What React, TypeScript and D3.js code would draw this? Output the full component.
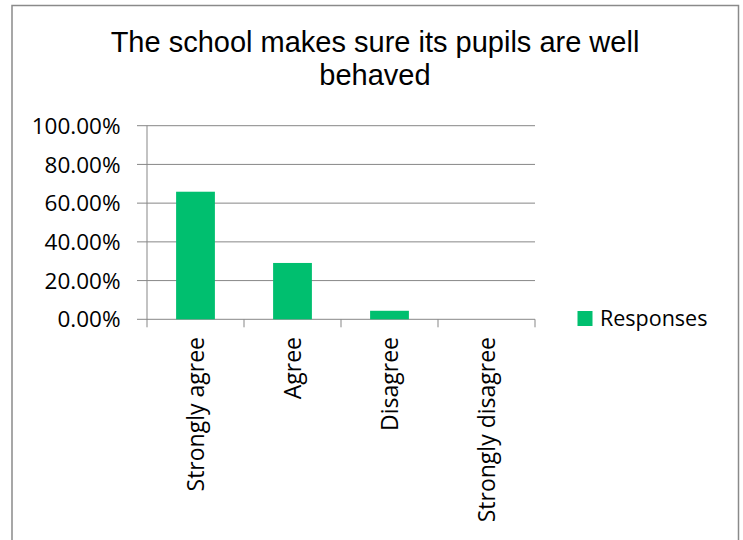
import React from "react";
import * as d3 from "d3";

const categories: string[] = ["Strongly agree", "Agree", "Disagree", "Strongly disagree"];
const responses: number[] = [0.659, 0.291, 0.044, 0];
const yTicks: number[] = [0, 0.2, 0.4, 0.6, 0.8, 1.0];
const titleLines: string[] = ["The school makes sure its pupils are well", "behaved"];
const seriesName = "Responses";

const W = 743;
const H = 540;
const plot = { left: 147, right: 535, top: 125.7, bottom: 319.3 };
const barColor = "#00BF6F";
const gridColor = "#878787";
const font = "'Open Sans', 'Noto Sans', sans-serif";

export default function App() {
  const x = d3.scaleBand<string>().domain(categories).range([plot.left, plot.right]).padding(0);
  const y = d3.scaleLinear().domain([0, 1]).range([plot.bottom, plot.top]);
  const bw = x.bandwidth() * 0.4;
  const fmt = (v: number) => (v * 100).toFixed(2) + "%";
  const boundaries = [...categories.map((c) => x(c) as number), plot.right];

  return (
    <svg
      width={W}
      height={H}
      style={{ position: "absolute", left: 0, top: 0, background: "#fff" }}
    >
      <rect x={0} y={0} width={W} height={H} fill="#fff" />
      <rect x={12} y={5.5} width={726.5} height={H + 10} fill="none" stroke="#8a8a8a" strokeWidth={1.5} />

      {titleLines.map((t, i) => (
        <text
          key={i}
          x={375}
          y={52 + i * 33}
          textAnchor="middle"
          fontFamily="'Liberation Sans', Arial, sans-serif"
          fontSize={29}
          fill="#000"
        >
          {t}
        </text>
      ))}

      {yTicks.map((t) => (
        <g key={t}>
          <line x1={137} x2={plot.right} y1={y(t)} y2={y(t)} stroke={gridColor} strokeWidth={1} />
          <text
            x={120.5}
            y={y(t)}
            dy="0.36em"
            textAnchor="end"
            fontFamily={font}
            fontSize={22.5}
            fill="#000"
          >
            {fmt(t)}
          </text>
        </g>
      ))}

      <line x1={plot.left} x2={plot.left} y1={plot.top} y2={plot.bottom} stroke={gridColor} strokeWidth={1} />
      {boundaries.map((b, i) => (
        <line key={i} x1={b} x2={b} y1={plot.bottom} y2={plot.bottom + 8} stroke={gridColor} strokeWidth={1} />
      ))}

      {categories.map((c, i) => {
        const cx = (x(c) as number) + x.bandwidth() / 2;
        return (
          <g key={c}>
            {responses[i] > 0 && (
              <rect
                x={cx - bw / 2}
                y={y(responses[i])}
                width={bw}
                height={plot.bottom - y(responses[i])}
                fill={barColor}
              />
            )}
            <text
              transform={`translate(${cx},337) rotate(-90)`}
              dy="0.36em"
              textAnchor="end"
              fontFamily={font}
              fontSize={23}
              fill="#000"
            >
              {c}
            </text>
          </g>
        );
      })}

      <rect x={577.5} y={311} width={15} height={15} fill={barColor} />
      <text x={600} y={318.5} dy="0.36em" fontFamily={font} fontSize={21.5} fill="#000">
        {seriesName}
      </text>
    </svg>
  );
}
